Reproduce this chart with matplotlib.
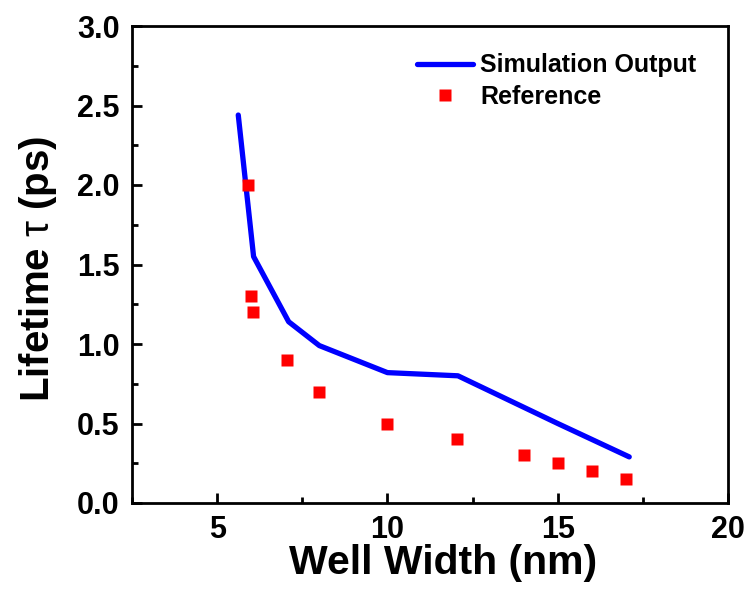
import matplotlib
matplotlib.use("Agg")
import matplotlib.pyplot as plt
from matplotlib.ticker import MultipleLocator

sim_x = [5.62, 6.07, 7.1, 8.0, 10.0, 12.07, 15.0, 17.1]
sim_y = [2.44, 1.55, 1.14, 0.99, 0.82, 0.80, 0.50, 0.29]
ref_x = [5.9, 6.0, 6.05, 7.05, 8.0, 10.0, 12.05, 14.0, 15.0, 16.0, 17.0]
ref_y = [2.0, 1.3, 1.2, 0.9, 0.7, 0.5, 0.4, 0.3, 0.25, 0.2, 0.15]
x_ticks = [5, 10, 15, 20]
y_ticks = [0.0, 0.5, 1.0, 1.5, 2.0, 2.5, 3.0]

plt.rcParams['font.family'] = ['Liberation Sans', 'DejaVu Sans']
plt.rcParams['font.weight'] = 'bold'
plt.rcParams['mathtext.fontset'] = 'custom'
plt.rcParams['mathtext.rm'] = 'Liberation Sans:weight=normal'
plt.rcParams['mathtext.it'] = 'Liberation Sans:weight=normal'
plt.rcParams['mathtext.sf'] = 'Liberation Sans:weight=normal'
plt.rcParams['mathtext.bf'] = 'Liberation Sans:weight=bold'
plt.rcParams['mathtext.default'] = 'rm'

fig = plt.figure(figsize=(7.47, 5.95), dpi=100)
ax = fig.add_axes([132/747, 1-503/595, (728-132)/747, (503-26)/595])

ax.plot(sim_x, sim_y, color='#0000ff', lw=3.8, solid_capstyle='round', solid_joinstyle='round', label='Simulation Output')
ax.plot(ref_x, ref_y, ls='none', marker='s', ms=8, color='#ff0000', mec='none', label='Reference')

ax.set_xlim(2.5, 20)
ax.set_ylim(0, 3.0)
ax.set_xticks(x_ticks)
ax.set_yticks(y_ticks)
ax.set_yticklabels([f"{v:.1f}" for v in y_ticks])
ax.xaxis.set_minor_locator(MultipleLocator(2.5))
ax.yaxis.set_minor_locator(MultipleLocator(0.25))
ax.tick_params(which='major', direction='in', length=7, width=2, labelsize=22)
ax.tick_params(axis='y', which='major', pad=9)
ax.tick_params(axis='x', which='major', pad=9)
ax.tick_params(which='minor', direction='in', length=4, width=2)
for lab in ax.get_xticklabels() + ax.get_yticklabels():
    lab.set_fontweight('bold')
for s in ax.spines.values():
    s.set_linewidth(2)

ax.set_xlabel('Well Width (nm)', fontsize=29.5, fontweight='bold')
ax.xaxis.set_label_coords(0.522, -0.085, transform=ax.transAxes)
ax.xaxis.label.set_va('top')
ax.set_ylabel(r'Lifetime $\tau$ (ps)', fontsize=29, fontweight='bold')
ax.yaxis.set_label_coords(-0.123, 0.4906, transform=ax.transAxes)

leg = ax.legend(loc='upper left', bbox_to_anchor=(0.44, 0.99), frameon=False,
                fontsize=18, handlelength=2.25, handletextpad=0.3, labelspacing=0.3)
for t in leg.get_texts():
    t.set_fontweight('bold')

fig.savefig('out.png', dpi=100)
